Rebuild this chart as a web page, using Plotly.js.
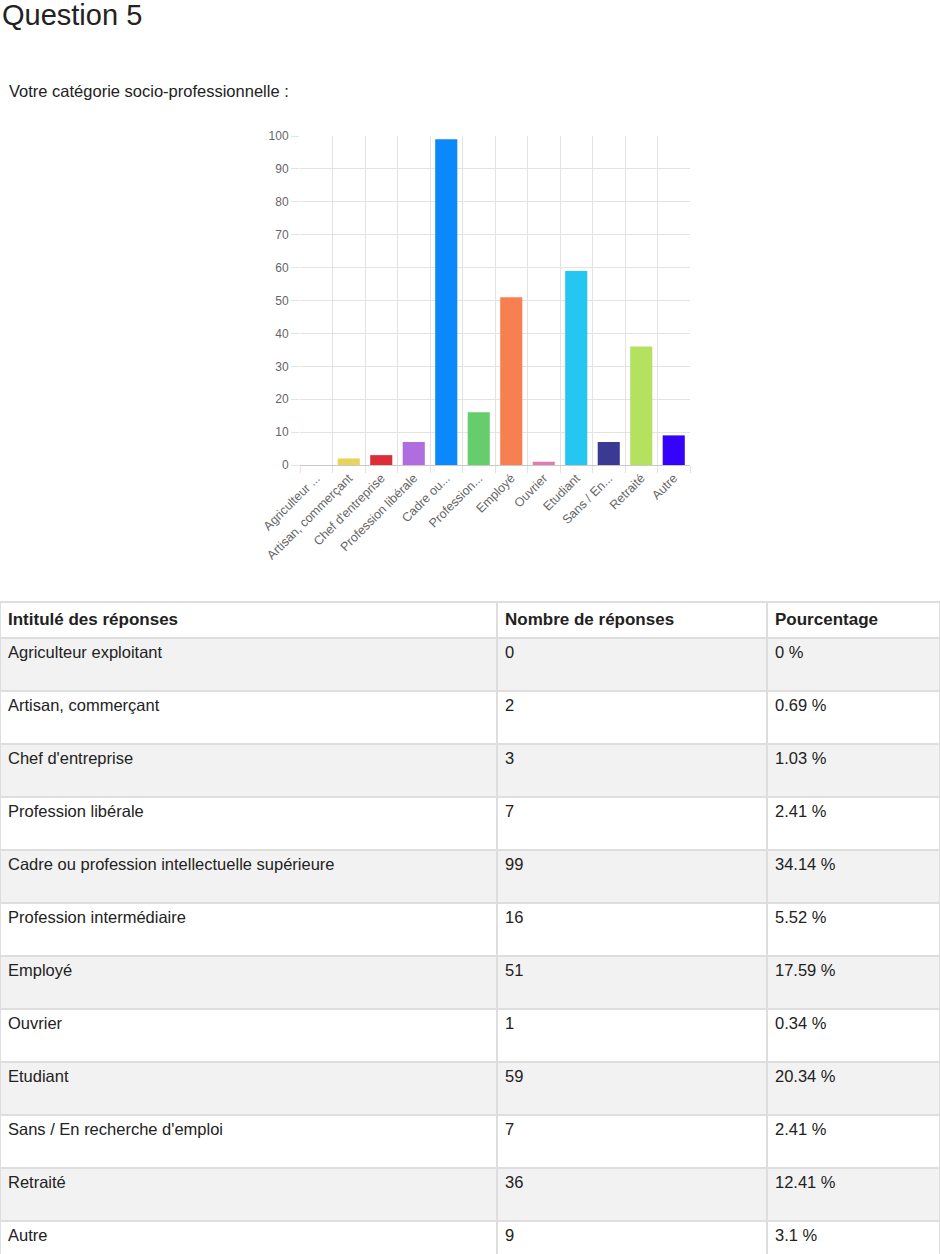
<!DOCTYPE html>
<html>
<head>
<meta charset="utf-8">
<script src="https://cdn.plot.ly/plotly-3.0.1.min.js"></script>
<style>
  html, body { margin: 0; padding: 0; background: #ffffff; overflow: hidden; }
  #chart { width: 940px; height: 1300px; }
</style>
</head>
<body>
<div id="chart"></div>
<script>
// ---- Data ----
const pageTitle = "Question 5";
const questionText = "Votre catégorie socio-professionnelle :";
const categories = [
  "Agriculteur exploitant",
  "Artisan, commerçant",
  "Chef d'entreprise",
  "Profession libérale",
  "Cadre ou profession intellectuelle supérieure",
  "Profession intermédiaire",
  "Employé",
  "Ouvrier",
  "Etudiant",
  "Sans / En recherche d'emploi",
  "Retraité",
  "Autre"
];
const shortLabels = [
  "Agriculteur ...",
  "Artisan, commerçant",
  "Chef d'entreprise",
  "Profession libérale",
  "Cadre ou...",
  "Profession...",
  "Employé",
  "Ouvrier",
  "Etudiant",
  "Sans / En...",
  "Retraité",
  "Autre"
];
const counts = [0, 2, 3, 7, 99, 16, 51, 1, 59, 7, 36, 9];
const percents = [0, 0.69, 1.03, 2.41, 34.14, 5.52, 17.59, 0.34, 20.34, 2.41, 12.41, 3.1];
const barColors = [
  "#4bc0c0", "#e9d45b", "#dd2c3a", "#b06de0", "#0b88fb", "#66cd6c",
  "#f87f4f", "#e27bb1", "#25c6f2", "#3a3a95", "#b4e160", "#3503fb"
];
const headerLabels = ["Intitulé des réponses", "Nombre de réponses", "Pourcentage"];

// ---- Page geometry (pixels) ----
const W = 940, H = 1300;
const fx = px => px / W;
const fy = px => 1 - px / H;

const FONT = "'Liberation Sans', Arial, Helvetica, sans-serif";

const rowFill = categories.map((_, i) => (i % 2 === 0 ? "#f2f2f2" : "#ffffff"));

const barTrace = {
  type: "bar",
  x: categories,
  y: counts,
  marker: { color: barColors, line: { width: 0 } },
  xaxis: "x",
  yaxis: "y",
  hoverinfo: "none"
};

const tableTrace = {
  type: "table",
  domain: { x: [0, 1], y: [0, fy(602)] },
  columnwidth: [497, 270, 173],
  header: {
    values: headerLabels.map(h => "<b>" + h + "</b>"),
    align: "left",
    height: 36,
    fill: { color: "#ffffff" },
    line: { color: "#dedede", width: 2 },
    font: { family: FONT, size: 17, color: "#222222" }
  },
  cells: {
    values: [
      categories,
      counts.map(c => String(c)),
      percents.map(p => String(p) + " %")
    ],
    align: "left",
    height: 53,
    fill: { color: [rowFill, rowFill, rowFill] },
    line: { color: "#dedede", width: 2 },
    font: { family: FONT, size: 16.5, color: "#222222" }
  }
};

const layout = {
  width: W,
  height: H,
  margin: { l: 0, r: 0, t: 0, b: 0 },
  paper_bgcolor: "#ffffff",
  plot_bgcolor: "#ffffff",
  showlegend: false,
  bargap: 0.32,
  font: { family: FONT, color: "#666666", size: 12 },
  xaxis: {
    domain: [fx(300), fx(690)],
    anchor: "y",
    type: "category",
    tickvals: categories,
    ticktext: shortLabels,
    tickson: "boundaries",
    tickangle: -45,
    ticks: "outside",
    ticklen: 7,
    tickcolor: "#e3e3e3",
    showgrid: true,
    gridcolor: "#e3e3e3",
    showline: true,
    linecolor: "#c8c8c8",
    linewidth: 1,
    tickfont: { family: FONT, size: 12.5, color: "#666666" },
    fixedrange: true
  },
  yaxis: {
    domain: [fy(465), fy(136)],
    anchor: "x",
    range: [0, 100],
    dtick: 10,
    ticks: "outside",
    ticklen: 8,
    tickcolor: "#e3e3e3",
    showgrid: true,
    gridcolor: "#e3e3e3",
    zeroline: false,
    showline: false,
    tickfont: { family: FONT, size: 12, color: "#666666" },
    fixedrange: true
  },
  annotations: [
    {
      text: pageTitle,
      xref: "paper", yref: "paper",
      x: fx(0), y: fy(15),
      xanchor: "left", yanchor: "middle",
      showarrow: false,
      font: { family: FONT, size: 29, color: "#222222" }
    },
    {
      text: questionText,
      xref: "paper", yref: "paper",
      x: fx(7), y: fy(91),
      xanchor: "left", yanchor: "middle",
      showarrow: false,
      font: { family: FONT, size: 16.5, color: "#222222" }
    }
  ]
};

Plotly.newPlot("chart", [barTrace, tableTrace], layout, { displayModeBar: false, staticPlot: true });
</script>
</body>
</html>
